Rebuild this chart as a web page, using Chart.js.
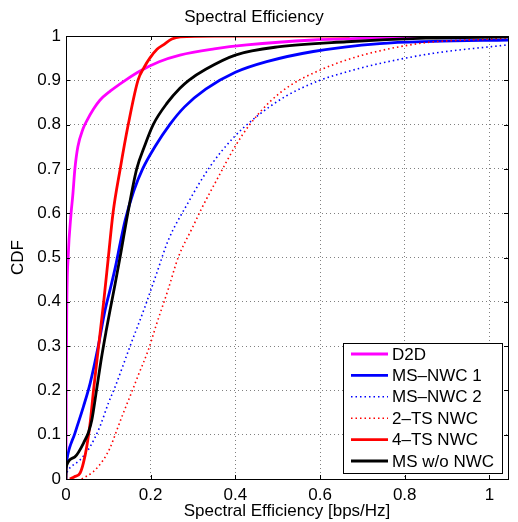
<!DOCTYPE html>
<html>
<head>
<meta charset="utf-8">
<script src="https://cdn.jsdelivr.net/npm/chart.js@4"></script>
<style>
  html, body { margin: 0; padding: 0; background: #fff; }
  #wrap { width: 518px; height: 522px; }
</style>
</head>
<body>
<div id="wrap"><canvas id="chartCdf"></canvas></div>
<script>
// Series labels (legend order)
const seriesLabels = ["D2D", "MS\u2013NWC 1", "MS\u2013NWC 2", "2\u2013TS NWC", "4\u2013TS NWC", "MS w/o NWC"];

// CDF curves (x = spectral efficiency, y = CDF)
const d2dX = [0, 0.0005, 0.002, 0.005, 0.012, 0.016, 0.021, 0.028, 0.04, 0.05, 0.065, 0.08, 0.105, 0.14, 0.175, 0.22, 0.269, 0.35, 0.427, 0.584, 0.75, 0.9, 1.044];
const d2dY = [0, 0.2, 0.4, 0.5, 0.6, 0.64, 0.7, 0.75, 0.79, 0.81, 0.835, 0.855, 0.876, 0.9, 0.921, 0.942, 0.957, 0.971, 0.98, 0.991, 0.996, 0.999, 1];

const nwc1X = [0, 0.002, 0.021, 0.041, 0.057, 0.076, 0.092, 0.104, 0.117, 0.128, 0.14, 0.16, 0.181, 0.21, 0.245, 0.28, 0.33, 0.4, 0.474, 0.584, 0.741, 0.867, 1.044];
const nwc1Y = [0.025, 0.043, 0.103, 0.163, 0.216, 0.299, 0.38, 0.427, 0.48, 0.532, 0.585, 0.65, 0.7, 0.75, 0.8, 0.84, 0.88, 0.918, 0.942, 0.965, 0.983, 0.988, 0.991];

const nwc2X = [0.002, 0.009, 0.033, 0.057, 0.08, 0.1, 0.116, 0.151, 0.187, 0.214, 0.242, 0.285, 0.34, 0.395, 0.45, 0.521, 0.6, 0.678, 0.741, 0.868, 1.044];
const nwc2Y = [0.015, 0.025, 0.043, 0.073, 0.118, 0.171, 0.208, 0.299, 0.39, 0.464, 0.54, 0.618, 0.705, 0.77, 0.818, 0.865, 0.9, 0.923, 0.938, 0.961, 0.98];

const ts2X = [0.037, 0.065, 0.088, 0.104, 0.12, 0.135, 0.151, 0.171, 0.194, 0.214, 0.242, 0.265, 0.3, 0.32, 0.356, 0.399, 0.434, 0.482, 0.529, 0.6, 0.663, 0.734, 0.85, 1.0, 1.044];
const ts2Y = [0, 0.017, 0.043, 0.07, 0.11, 0.148, 0.186, 0.235, 0.29, 0.35, 0.43, 0.5, 0.57, 0.61, 0.675, 0.75, 0.8, 0.852, 0.888, 0.923, 0.946, 0.965, 0.985, 0.993, 0.995];

const ts4X = [0.009, 0.02, 0.033, 0.041, 0.049, 0.057, 0.065, 0.077, 0.089, 0.1, 0.111, 0.128, 0.147, 0.17, 0.185, 0.198, 0.215, 0.23, 0.25, 0.27, 0.35, 0.67];
const ts4Y = [0, 0.005, 0.013, 0.036, 0.073, 0.126, 0.2, 0.3, 0.4, 0.5, 0.6, 0.7, 0.8, 0.9, 0.93, 0.95, 0.97, 0.98, 0.993, 0.998, 1, 1];

const noNwcX = [0, 0.0005, 0.002, 0.021, 0.045, 0.053, 0.061, 0.072, 0.084, 0.095, 0.104, 0.116, 0.128, 0.146, 0.167, 0.185, 0.206, 0.24, 0.269, 0.29, 0.33, 0.4, 0.505, 0.663, 0.85, 1.044];
const noNwcY = [0, 0.02, 0.032, 0.05, 0.088, 0.105, 0.133, 0.2, 0.275, 0.335, 0.381, 0.44, 0.502, 0.6, 0.7, 0.75, 0.8, 0.85, 0.882, 0.9, 0.925, 0.957, 0.976, 0.987, 0.995, 0.998];

// Tick values
const xTicks = [0, 0.2, 0.4, 0.6, 0.8, 1];
const yTicks = [0, 0.1, 0.2, 0.3, 0.4, 0.5, 0.6, 0.7, 0.8, 0.9, 1];

const FONT = "'Liberation Sans', Arial, Helvetica, sans-serif";
const FSIZE = 17;

const toPoints = (xs, ys) => xs.map((x, i) => ({ x: x, y: ys[i] }));

const seriesData = [
    toPoints(d2dX, d2dY),
    toPoints(nwc1X, nwc1Y),
    toPoints(nwc2X, nwc2Y),
    toPoints(ts2X, ts2Y),
    toPoints(ts4X, ts4Y),
    toPoints(noNwcX, noNwcY)
];
const seriesColors = ["#ff00ff", "#0000ff", "#0000ff", "#ff0000", "#ff0000", "#000000"];
const dotted = [false, false, true, true, false, false];

const datasets = seriesData.map((data, i) => ({
    label: seriesLabels[i],
    data: data,
    borderColor: seriesColors[i],
    backgroundColor: seriesColors[i],
    borderWidth: dotted[i] ? 1.6 : 2.8,
    borderDash: dotted[i] ? [1.5, 3] : [],
    pointRadius: 0,
    showLine: true,
    fill: false,
    cubicInterpolationMode: "monotone",
    clip: 0,
    order: seriesData.length - i   // later series drawn on top, like matlab
}));

// Box, inward tick marks and the boxed legend
const frameAndLegend = {
    id: "frameAndLegend",
    afterDatasetsDraw(chart) {
        const ctx = chart.ctx;
        const a = chart.chartArea;
        const xs = chart.scales.x, ys = chart.scales.y;
        ctx.save();
        ctx.strokeStyle = "#000";
        ctx.lineWidth = 1;
        ctx.setLineDash([]);
        ctx.beginPath();
        xTicks.forEach(v => {
            const px = Math.round(xs.getPixelForValue(v)) + 0.5;
            ctx.moveTo(px, a.bottom); ctx.lineTo(px, a.bottom - 4);
            ctx.moveTo(px, a.top); ctx.lineTo(px, a.top + 4);
        });
        yTicks.forEach(v => {
            const py = Math.round(ys.getPixelForValue(v)) + 0.5;
            ctx.moveTo(a.left, py); ctx.lineTo(a.left + 4, py);
            ctx.moveTo(a.right, py); ctx.lineTo(a.right - 4, py);
        });
        ctx.stroke();
        ctx.strokeRect(Math.round(a.left) + 0.5, Math.round(a.top) + 0.5,
            Math.round(a.right - a.left), Math.round(a.bottom - a.top));

        // legend
        const w = 159, h = 130;
        const lx = Math.round(a.right) - 6 - w, ly = Math.round(a.bottom) - 6 - h;
        ctx.fillStyle = "#fff";
        ctx.fillRect(lx, ly, w, h);
        ctx.strokeRect(lx + 0.5, ly + 0.5, w, h);
        ctx.font = FSIZE + "px " + FONT;
        ctx.textBaseline = "middle";
        seriesLabels.forEach((lab, i) => {
            const cy = ly + 11 + i * 21.4;
            ctx.beginPath();
            ctx.strokeStyle = seriesColors[i];
            ctx.lineWidth = dotted[i] ? 1.6 : 2.8;
            ctx.setLineDash(dotted[i] ? [1.5, 3] : []);
            ctx.moveTo(lx + 8, cy); ctx.lineTo(lx + 45, cy);
            ctx.stroke();
            ctx.fillStyle = "#000";
            ctx.fillText(lab, lx + 49, cy + 1);
        });
        ctx.restore();
    }
};

const chartCdf = new Chart(document.getElementById("chartCdf"), {
    type: "scatter",
    data: { datasets: datasets },
    options: {
        responsive: true,
        maintainAspectRatio: false,
        animation: false,
        layout: { padding: { left: 0, right: 10, top: 0, bottom: 0 } },
        plugins: {
            legend: { display: false },
            tooltip: { enabled: false },
            title: {
                display: true,
                text: "Spectral Efficiency",
                color: "#000",
                font: { family: FONT, size: FSIZE, weight: "normal" },
                padding: { top: 7, bottom: 8.6 }
            }
        },
        scales: {
            x: {
                type: "linear",
                min: 0,
                max: 1.044,
                afterBuildTicks: s => { s.ticks = xTicks.map(v => ({ value: v })); },
                afterFit: s => { s.height = 43; },
                ticks: {
                    color: "#000",
                    font: { family: FONT, size: FSIZE },
                    padding: 6,
                    maxRotation: 0,
                    callback: v => String(v)
                },
                grid: { color: "#808080", lineWidth: 1, drawTicks: false },
                border: { display: false, dash: [1, 3] },
                title: {
                    display: true,
                    text: "Spectral Efficiency [bps/Hz]",
                    color: "#000",
                    font: { family: FONT, size: FSIZE },
                    padding: { top: 0, bottom: 0 }
                }
            },
            y: {
                type: "linear",
                min: 0,
                max: 1,
                afterBuildTicks: s => { s.ticks = yTicks.map(v => ({ value: v })); },
                afterFit: s => { s.width = 66; },
                ticks: {
                    color: "#000",
                    font: { family: FONT, size: FSIZE },
                    padding: 5,
                    callback: v => String(v)
                },
                grid: { color: "#808080", lineWidth: 1, drawTicks: false },
                border: { display: false, dash: [1, 3] },
                title: {
                    display: true,
                    text: "CDF",
                    color: "#000",
                    font: { family: FONT, size: FSIZE },
                    padding: { top: 8, bottom: 0 }
                }
            }
        }
    },
    plugins: [frameAndLegend]
});
</script>
</body>
</html>
